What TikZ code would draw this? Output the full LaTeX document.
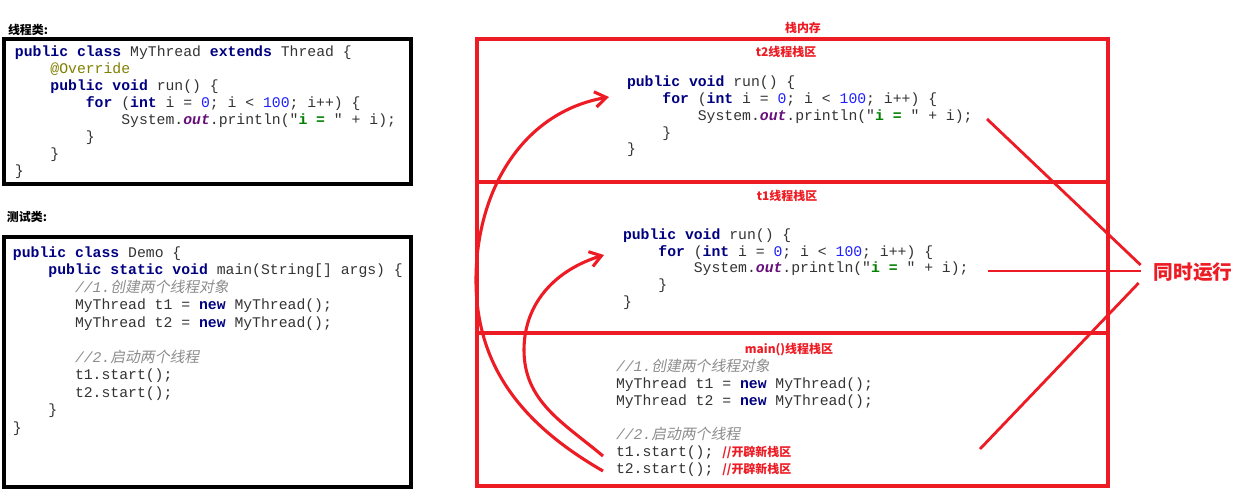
\documentclass[tikz,border=0pt]{standalone}
\usepackage{fontspec}
\usepackage{xcolor}
\usetikzlibrary{arrows.meta}
\setmonofont{Liberation Mono}
\newfontfamily\lbl{Noto Sans CJK SC}
\newfontfamily\cjkslant[FakeSlant=0.2]{Noto Sans CJK SC}
\definecolor{myred}{HTML}{ED1C24}
\definecolor{codegray}{HTML}{333333}
\definecolor{kwblue}{HTML}{000080}
\definecolor{numblue}{HTML}{2020FF}
\definecolor{strgreen}{HTML}{008000}
\definecolor{fldpurple}{HTML}{660E7A}
\definecolor{annolive}{HTML}{808000}
\definecolor{cmtgray}{HTML}{8C8C8C}
% code colouring
\newcommand\kw[1]{{\bfseries\color{kwblue}#1}}
\newcommand\num[1]{{\color{numblue}#1}}
\newcommand\str[1]{{\bfseries\color{strgreen}#1}}
\newcommand\fld[1]{{\bfseries\itshape\color{fldpurple}#1}}
\newcommand\ann[1]{{\color{annolive}#1}}
\newcommand\cmt[1]{{\itshape\color{cmtgray}#1}}
\newcommand\redtag[1]{{\lbl\bfseries\fontsize{8.5pt}{10pt}\selectfont\color{myred}#1}}
\newcommand\ind[1]{\hspace*{#1\dimexpr0.6em\relax}}
\newcommand\topline{\rule{0pt}{10pt}}
\newcommand\codefont[1]{\ttfamily\fontsize{10.5pt}{#1}\selectfont\frenchspacing}

\begin{document}
\begin{tikzpicture}[x=0.025cm, y=-0.025cm,
  every node/.style={inner sep=0pt, outer sep=0pt},
  codetext/.style={anchor=north west, align=left, text=codegray},
  boxline/.style={draw=black, line width=2.4pt},
  stackline/.style={draw=myred, line width=2.2pt},
  caption/.style={font=\lbl\bfseries\fontsize{8.5pt}{10pt}\selectfont},
  redcaption/.style={caption, text=myred},
  runlabel/.style={font=\lbl\bfseries\fontsize{14pt}{16pt}\selectfont, text=myred},
  runline/.style={myred, line width=2pt},
  startarrow/.style={myred, line width=2.2pt, -{Straight Barb[length=8pt,width=11pt]}}
]
  \useasboundingbox (0,0) rectangle (1235,499);

  % Left: class code
  \node[caption, anchor=west] (clscap) at (8,30) {线程类:};
  \draw[boxline] (4,39) rectangle (411,184);
  \node[codetext, font=\codefont{12.1pt}] (clscode) at (15,42) {
    \topline\kw{public class} MyThread \kw{extends} Thread \{\\
    \ind4\ann{@Override}\\
    \ind4\kw{public void} run() \{\\
    \ind8\kw{for} (\kw{int} i = \num{0}; i < \num{100}; i++) \{\\
    \ind{12}System.\fld{out}.println("\str{i =} " + i);\\
    \ind8\}\\
    \ind4\}\\
    \}
  };

  % Left: test code
  \node[caption, anchor=west] (testcap) at (7,217) {测试类:};
  \draw[boxline] (4,237) rectangle (411,487);
  \node[codetext, font=\codefont{12.45pt}] (testcode) at (13,243) {
    \topline\kw{public class} Demo \{\\
    \ind4\kw{public static void} main(String[] args) \{\\
    \ind7\cmt{//1.{\cjkslant 创建两个线程对象}}\\
    \ind7MyThread t1 = \kw{new} MyThread();\\
    \ind7MyThread t2 = \kw{new} MyThread();\\
    \mbox{}\\
    \ind7\cmt{//2.{\cjkslant 启动两个线程}}\\
    \ind7t1.start();\\
    \ind7t2.start();\\
    \ind4\}\\
    \}
  };

  % Right: stack memory
  \node[redcaption] (stackcap) at (803,28) {栈内存};
  \draw[stackline] (477,39) rectangle (1108,486);
  \draw[stackline] (477,182) -- (1108,182);
  \draw[stackline] (477,333) -- (1108,333);

  \node[redcaption] (t2cap) at (786,52) {t2线程栈区};
  \node[codetext, font=\codefont{11.95pt}] (t2code) at (627,72.7) {
    \topline\kw{public void} run() \{\\
    \ind4\kw{for} (\kw{int} i = \num{0}; i < \num{100}; i++) \{\\
    \ind8System.\fld{out}.println("\str{i =} " + i);\\
    \ind4\}\\
    \}
  };

  \node[redcaption] (t1cap) at (787,196) {t1线程栈区};
  \node[codetext, font=\codefont{11.95pt}] (t1code) at (623,225.3) {
    \topline\kw{public void} run() \{\\
    \ind4\kw{for} (\kw{int} i = \num{0}; i < \num{100}; i++) \{\\
    \ind8System.\fld{out}.println("\str{i =} " + i);\\
    \ind4\}\\
    \}
  };

  \node[redcaption] (maincap) at (789,350) {main()线程栈区};
  \node[codetext, font=\codefont{12.09pt}] (maincode) at (616,357.5) {
    \topline\cmt{//1.{\cjkslant 创建两个线程对象}}\\
    MyThread t1 = \kw{new} MyThread();\\
    MyThread t2 = \kw{new} MyThread();\\
    \mbox{}\\
    \cmt{//2.{\cjkslant 启动两个线程}}\\
    t1.start(); \redtag{//开辟新栈区}\\
    t2.start(); \redtag{//开辟新栈区}
  };

  % Start arrows
  \coordinate (t1go) at (603,456);
  \coordinate (t2go) at (603,471);
  \coordinate (t1bend) at (524,350);
  \coordinate (t2bend) at (476,280);
  \coordinate (t1run) at (604,255);
  \coordinate (t2run) at (609,97);
  \draw[startarrow] (t2go) to[out=150,in=270] (t2bend) to[out=90,in=190] (t2run);
  \draw[startarrow] (t1go) to[out=140,in=270] (t1bend) to[out=90,in=197] (t1run);

  % Running at the same time
  \node[runlabel] (run) at (1193,272) {同时运行};
  \coordinate (t2print) at (987,119);
  \coordinate (t1print) at (988,271);
  \coordinate (mainprint) at (980,449);
  \draw[runline] (t2print) -- ([shift={(-13,-7)}]run.west);
  \draw[runline] (t1print) -- ([shift={(-13,-1)}]run.west);
  \draw[runline] (mainprint) -- ([shift={(-15,11)}]run.west);
\end{tikzpicture}
\end{document}
